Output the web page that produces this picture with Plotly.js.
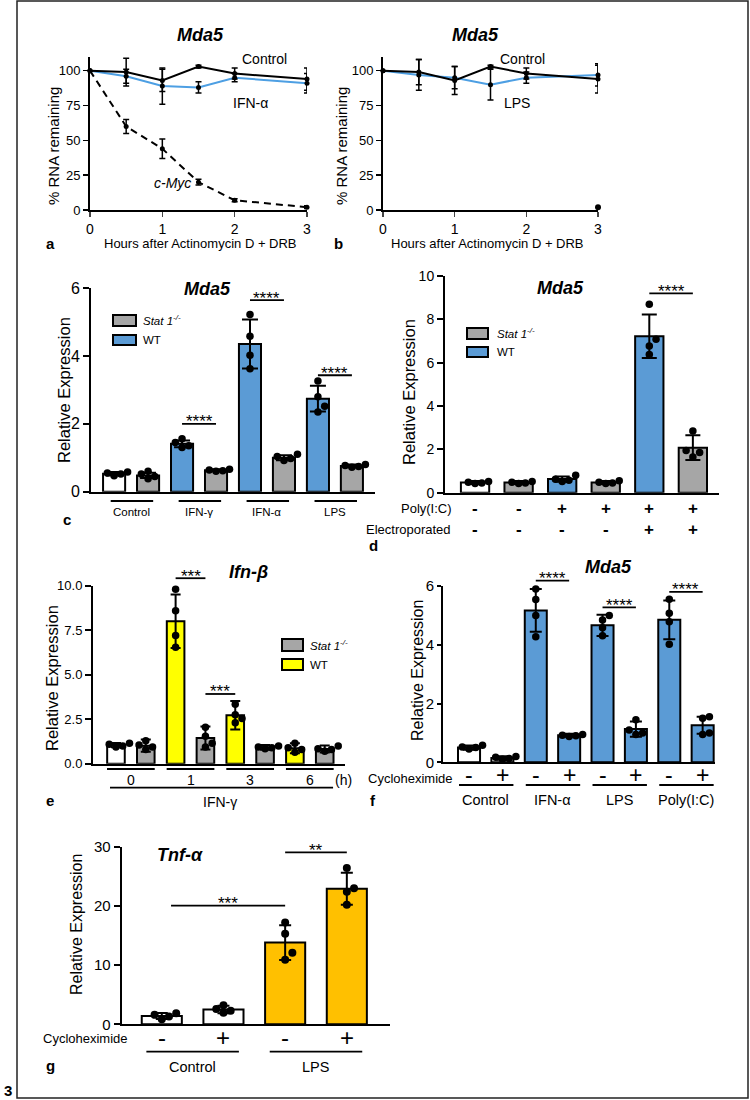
<!DOCTYPE html>
<html><head><meta charset="utf-8">
<script src="https://cdn.plot.ly/plotly-3.0.1.min.js"></script>
<style>html,body{margin:0;padding:0;background:#fff}#chart{width:750px;height:1100px}</style>
</head><body><div id="chart"></div>
<script>
// ================= DATA =================
// Panel a: Mda5 mRNA decay (IFN-α)
const hours = [0, 0.5, 1, 1.5, 2, 3];
const aControl = [100, 99, 93, 103, 98, 94];
const aControlErr = [0, 10, 8, 1, 4, 8];
const aIFNa = [100, 96, 89, 88, 95, 91];
const aIFNaErr = [0, 5, 13, 4, 3, 7];
const aMyc = [100, 60, 44, 20, 7, 2];
const aMycErr = [0, 5, 7, 2, 1, 1];
// Panel b: Mda5 mRNA decay (LPS)
const bControl = [100, 99, 93, 103, 98, 94];
const bControlErr = [0, 9, 10, 1, 4, 10];
const bLPS = [100, 97, 95, 90, 95, 97];
const bLPSErr = [0, 11, 8, 11, 4, 8];
const bMycHour = [3];
const bMyc = [2];
const xTicksAB = [0, 1, 2, 3];
const yTicksAB = [0, 25, 50, 75, 100];

// Panel c: Mda5, WT vs Stat1-/-
const cGroups = ['Control', 'IFN-γ', 'IFN-α', 'LPS'];
const cMeans = [0.53, 0.48, 1.41, 0.63, 4.35, 1.0, 2.74, 0.76];
const cErr = [0.05, 0.08, 0.1, 0.03, 0.72, 0.07, 0.38, 0.04];
const cPoints = [[0.47, 0.52, 0.55, 0.58], [0.38, 0.45, 0.52, 0.6], [1.3, 1.35, 1.45, 1.56], [0.6, 0.62, 0.64, 0.66],
                 [3.62, 4.02, 4.58, 5.22], [0.92, 0.98, 1.04, 1.1], [2.35, 2.52, 2.8, 3.26], [0.72, 0.74, 0.77, 0.8]];
const cSig = [[2, 3, 2.0, '****'], [4, 5, 5.64, '****'], [6, 7, 3.43, '****']];
const cTicks = [0, 2, 4, 6];

// Panel d: Mda5, Poly(I:C)
const dPoly = ['-', '-', '+', '+', '+', '+'];
const dElectro = ['-', '-', '-', '-', '+', '+'];
const dMeans = [0.47, 0.47, 0.63, 0.47, 7.22, 2.08];
const dErr = [0.07, 0.07, 0.12, 0.07, 1.0, 0.57];
const dPoints = [[0.42, 0.45, 0.48, 0.52], [0.42, 0.45, 0.48, 0.52], [0.52, 0.58, 0.62, 0.8], [0.42, 0.45, 0.48, 0.55],
                 [6.38, 6.77, 7.08, 8.7], [1.65, 1.85, 1.95, 2.85]];
const dSig = [[4, 5, 9.2, '****']];
const dTicks = [0, 2, 4, 6, 8, 10];

// Panel e: Ifn-β, IFN-γ time course
const eHours = ['0', '1', '3', '6'];
const eMeans = [1.05, 1.02, 8.0, 1.45, 2.73, 0.92, 0.87, 0.83];
const eErr = [0.12, 0.35, 1.5, 0.65, 0.8, 0.13, 0.28, 0.2];
const ePoints = [[0.95, 1.0, 1.1, 1.15], [0.8, 0.95, 1.05, 1.3], [6.55, 7.2, 8.6, 9.8], [0.95, 1.15, 1.55, 2.05],
                 [2.3, 2.55, 2.75, 3.35], [0.85, 0.9, 0.95, 1.0], [0.65, 0.8, 0.9, 1.15], [0.7, 0.8, 0.85, 1.0]];
const eSig = [[2, 3, 10.42, '***'], [3, 4, 3.92, '***']];
const eTicks = [0, 2.5, 5, 7.5, 10];

// Panel f: Mda5, cycloheximide
const fGroups = ['Control', 'IFN-α', 'LPS', 'Poly(I:C)'];
const fChx = ['-', '+', '-', '+', '-', '+', '-', '+'];
const fMeans = [0.5, 0.15, 5.17, 0.92, 4.66, 1.13, 4.85, 1.26];
const fErr = [0.07, 0.06, 0.73, 0.05, 0.36, 0.26, 0.66, 0.29];
const fPoints = [[0.45, 0.5, 0.52, 0.58], [0.1, 0.13, 0.17, 0.2], [4.27, 5.0, 5.54, 5.9], [0.88, 0.9, 0.92, 0.95],
                 [4.31, 4.58, 4.84, 5.0], [0.95, 1.0, 1.1, 1.45], [4.02, 4.78, 5.07, 5.55], [0.95, 1.0, 1.5, 1.55]];
const fSig = [[2, 3, 6.18, '****'], [4, 5, 5.27, '****'], [6, 7, 5.8, '****']];
const fTicks = [0, 2, 4, 6];

// Panel g: Tnf-α, cycloheximide
const gGroups = ['Control', 'LPS'];
const gChx = ['-', '+', '-', '+'];
const gMeans = [1.4, 2.5, 13.8, 22.9];
const gErr = [0.5, 0.65, 2.95, 2.7];
const gPoints = [[0.85, 1.3, 1.6, 1.85], [1.95, 2.3, 2.6, 3.2], [10.9, 12.1, 15.3, 17.2], [20.2, 22.4, 23.0, 26.4]];
const gSig = [[0.15, 2, 20.03, '***'], [2, 3, 29.05, '**']];
const gTicks = [0, 10, 20, 30];

// ================= STYLE / LAYOUT =================
const W = 750, H = 1100;
const FONT = 'Liberation Sans, Arial, Helvetica, sans-serif';
const BLUE = '#5b9bd5', GRAY = '#a6a6a6', WHITE = '#ffffff', YELLOW = '#ffff00', ORANGE = '#ffc000', LBLUE = '#4d9fe3';
const px = v => v / W, py = v => 1 - v / H;

const P = {
  a: {x: 'x',  y: 'y',  left: 90,    right: 307, top: 56.8,  bottom: 210,    xr: [0, 3],          yr: [0, 110]},
  b: {x: 'x2', y: 'y2', left: 383,   right: 598, top: 56.8,  bottom: 210,    xr: [0, 3],          yr: [0, 110]},
  c: {x: 'x3', y: 'y3', left: 91,    right: 375, top: 288,   bottom: 491.7,  xr: [-0.68, 7.68],   yr: [0, 6]},
  d: {x: 'x4', y: 'y4', left: 445,   right: 719, top: 276,   bottom: 492.7,  xr: [-0.69, 5.6],    yr: [0, 10]},
  e: {x: 'x5', y: 'y5', left: 93,    right: 345, top: 585.7, bottom: 763.8,  xr: [-0.77, 7.68],   yr: [0, 10]},
  f: {x: 'x6', y: 'y6', left: 443,   right: 715, top: 586,   bottom: 762.3,  xr: [-0.78, 7.37],   yr: [0, 6]},
  g: {x: 'x7', y: 'y7', left: 121.7, right: 390, top: 846.7, bottom: 1024.3, xr: [-0.65, 3.7],    yr: [0, 30]}
};
const XP = (p, v) => p.left + (v - p.xr[0]) / (p.xr[1] - p.xr[0]) * (p.right - p.left); // pixel
const YP = (p, v) => p.bottom - (v - p.yr[0]) / (p.yr[1] - p.yr[0]) * (p.bottom - p.top);
const axName = id => (id[0] === 'x' ? 'xaxis' : 'yaxis') + id.slice(1);

const layout = {
  width: W, height: H, margin: {l: 0, r: 0, t: 0, b: 0}, paper_bgcolor: '#fff', plot_bgcolor: 'rgba(0,0,0,0)',
  showlegend: false, font: {family: FONT, color: '#000'}, annotations: [], shapes: [], barmode: 'overlay'
};
function baseX(p) {
  return {domain: [px(p.left), px(p.right)], range: p.xr, anchor: p.y, showline: true, linecolor: '#000', linewidth: 2,
    showgrid: false, zeroline: false, fixedrange: true, ticks: '', showticklabels: false, automargin: false};
}
function baseY(p, tickvals, size, tl) {
  return {domain: [py(p.bottom), py(p.top)], range: p.yr, anchor: p.x, showline: true, linecolor: '#000', linewidth: 2,
    showgrid: false, zeroline: false, fixedrange: true, ticks: 'outside', ticklen: tl || 6, tickwidth: 2, tickcolor: '#000',
    tickvals: tickvals, tickfont: {size: size, color: '#000', family: FONT}, automargin: false};
}
for (const k of ['a', 'b']) {
  const p = P[k];
  layout[axName(p.x)] = Object.assign(baseX(p), {ticks: 'outside', ticklen: 5, tickwidth: 1.5, showticklabels: true,
    tickvals: xTicksAB, tickfont: {size: 14, family: FONT, color: '#000'}});
  layout[axName(p.y)] = Object.assign(baseY(p, yTicksAB, 13), {ticklen: 5, tickwidth: 1.5});
}
layout[axName(P.c.x)] = baseX(P.c); layout[axName(P.c.y)] = baseY(P.c, cTicks, 16);
layout[axName(P.d.x)] = baseX(P.d); layout[axName(P.d.y)] = baseY(P.d, dTicks, 14);
layout[axName(P.e.x)] = baseX(P.e); layout[axName(P.e.y)] = Object.assign(baseY(P.e, eTicks, 13), {tickformat: '.1f'});
layout[axName(P.f.x)] = baseX(P.f); layout[axName(P.f.y)] = baseY(P.f, fTicks, 15, 4);
layout[axName(P.g.x)] = baseX(P.g); layout[axName(P.g.y)] = baseY(P.g, gTicks, 15);

const traces = [];
function line(p, xs, ys, errs, color, dash) {
  traces.push({type: 'scatter', mode: 'lines+markers', x: xs, y: ys, xaxis: p.x, yaxis: p.y, cliponaxis: false,
    line: {color: color, width: 2, dash: dash || 'solid'}, marker: {size: 5, color: '#000'},
    error_y: {type: 'data', array: errs, visible: true, color: '#000', thickness: 1.5, width: 3}});
}
line(P.a, hours, aMyc, aMycErr, '#000', '7px,5px');
line(P.a, hours, aIFNa, aIFNaErr, LBLUE);
line(P.a, hours, aControl, aControlErr, '#000');
line(P.b, hours, bLPS, bLPSErr, LBLUE);
line(P.b, hours, bControl, bControlErr, '#000');
traces.push({type: 'scatter', mode: 'markers', x: bMycHour, y: bMyc, xaxis: P.b.x, yaxis: P.b.y, cliponaxis: false,
  marker: {size: 6, color: '#000'}});

function bars(p, means, errs, fills, width, capw, points, dot) {
  const idx = means.map((_, i) => i);
  traces.push({type: 'bar', x: idx, y: means, width: width, xaxis: p.x, yaxis: p.y, cliponaxis: false,
    marker: {color: fills, line: {color: '#000', width: 2}},
    error_y: {type: 'data', array: errs, visible: true, color: '#000', thickness: 2, width: capw}});
  // simple beeswarm so overlapping dots sit side by side
  const sx = (p.right - p.left) / (p.xr[1] - p.xr[0]), sy = (p.bottom - p.top) / (p.yr[1] - p.yr[0]);
  const xs = [], ys = [];
  points.forEach((vals, i) => {
    const placed = [];
    vals.forEach(v => {
      const yy = v * sy;
      let off = 0;
      for (let k = 0; k < 12; k++) {
        const cand = (k === 0 ? 0 : (k % 2 ? 1 : -1) * Math.ceil(k / 2) * dot * 0.9);
        if (placed.every(q => Math.hypot(q[0] - cand, q[1] - yy) >= dot * 0.9)) { off = cand; break; }
      }
      placed.push([off, yy]);
      xs.push(i + off / sx); ys.push(v);
    });
  });
  traces.push({type: 'scatter', mode: 'markers', x: xs, y: ys, xaxis: p.x, yaxis: p.y, cliponaxis: false,
    marker: {size: dot, color: '#000'}});
}
bars(P.c, cMeans, cErr, [WHITE, GRAY, BLUE, GRAY, BLUE, GRAY, BLUE, GRAY], 0.65, 8, cPoints, 7.5);
bars(P.d, dMeans, dErr, [WHITE, GRAY, BLUE, GRAY, BLUE, GRAY], 0.65, 7.5, dPoints, 7.5);
bars(P.e, eMeans, eErr, [WHITE, GRAY, YELLOW, GRAY, YELLOW, GRAY, YELLOW, GRAY], 0.59, 5, ePoints, 7.5);
bars(P.f, fMeans, fErr, [WHITE, WHITE, BLUE, BLUE, BLUE, BLUE, BLUE, BLUE], 0.66, 6, fPoints, 7.5);
bars(P.g, gMeans, gErr, [WHITE, WHITE, ORANGE, ORANGE], 0.65, 6, gPoints, 8);

// ---- helpers for text / shapes (paper coordinates from pixels) ----
function ann(x, y, text, size, o) {
  layout.annotations.push(Object.assign({xref: 'paper', yref: 'paper', x: px(x), y: py(y), text: text, showarrow: false,
    xanchor: 'center', yanchor: 'middle', font: {size: size, color: '#000', family: FONT}}, o || {}));
}
function seg(x0, y0, x1, y1, w, col) {
  layout.shapes.push({type: 'line', xref: 'paper', yref: 'paper', x0: px(x0), y0: py(y0), x1: px(x1), y1: py(y1),
    line: {color: col || '#000', width: w || 1.8}});
}
function box(x0, y0, x1, y1, fill) {
  layout.shapes.push({type: 'rect', xref: 'paper', yref: 'paper', x0: px(x0), y0: py(y1), x1: px(x1), y1: py(y0),
    fillcolor: fill, line: {color: '#000', width: 2}});
}
function sig(p, list) {
  list.forEach(([a, b, y, s]) => {
    const yy = YP(p, y);
    seg(XP(p, a), yy, XP(p, b), yy, 1.8);
    ann((XP(p, a) + XP(p, b)) / 2, yy, s, 17, {yshift: 2});
  });
}
function groups(p, names, yLine, yText, size, padL, padR) {
  names.forEach((n, g) => {
    const a = 2 * g, b = 2 * g + 1;
    seg(XP(p, a - padL), yLine, XP(p, b + padR), yLine, 1.8);
    ann((XP(p, a) + XP(p, b)) / 2, yText, n, size);
  });
}
function signs(p, list, y, size, o) {
  list.forEach((s, i) => ann(XP(p, i), y, s, size, o));
}
const bold = (t) => '<b>' + t + '</b>';
const bi = (t) => '<b><i>' + t + '</i></b>';
const RE = 'Relative Expression';
const STAT = '<i>Stat 1<sup>-/-</sup></i>';

// frame and figure number
layout.shapes.push({type: 'rect', xref: 'paper', yref: 'paper', x0: px(17), x1: px(748), y0: py(1098), y1: py(1),
  line: {color: '#222', width: 1.5}, fillcolor: 'rgba(0,0,0,0)'});
ann(8, 1090, bold('3'), 15);

// Panel a / b texts
ann(200, 35, bi('Mda5'), 18);
ann(475, 35, bi('Mda5'), 18);
ann(54, 146, '% RNA remaining', 15, {textangle: -90});
ann(342, 146, '% RNA remaining', 15, {textangle: -90});
ann(200, 244, 'Hours after Actinomycin D + DRB', 13);
ann(487, 244, 'Hours after Actinomycin D + DRB', 13);
ann(264, 59, 'Control', 14);
ann(250, 103, 'IFN-α', 14);
ann(172, 183, '<i>c-Myc</i>', 14);
ann(522, 59, 'Control', 14);
ann(517, 103, 'LPS', 14);
ann(50, 244, bold('a'), 15);
ann(338, 244, bold('b'), 15);

// Panel c
ann(207, 289, bi('Mda5'), 18);
ann(64, 390, RE, 16.5, {textangle: -90});
box(113, 315, 136, 326, GRAY); box(113, 335, 136, 345, BLUE);
ann(141, 320, STAT, 11.5, {xanchor: 'left'});
ann(141, 340, 'WT', 11.5, {xanchor: 'left'});
sig(P.c, cSig);
groups(P.c, cGroups, 501, 512, 11.5, 0.1, 0.15);
ann(67, 520, bold('c'), 15);

// Panel d
ann(560, 288, bi('Mda5'), 18);
ann(409, 392, RE, 16.5, {textangle: -90});
box(467, 328, 488, 339, GRAY); box(467, 347, 488, 357, BLUE);
ann(495, 333, STAT, 11.5, {xanchor: 'left'});
ann(495, 352, 'WT', 11.5, {xanchor: 'left'});
sig(P.d, dSig);
ann(454, 509, 'Poly(I:C)', 13, {xanchor: 'right'});
ann(453, 529, 'Electroporated', 13, {xanchor: 'right'});
signs(P.d, dPoly, 508, 17, {font: {size: 17, color: '#000', family: FONT, weight: 'bold'}});
signs(P.d, dElectro, 529, 17, {font: {size: 17, color: '#000', family: FONT, weight: 'bold'}});
ann(373, 545, bold('d'), 15);

// Panel e
ann(248, 572, bi('Ifn-β'), 18);
ann(52, 678, RE, 16.5, {textangle: -90});
box(282, 639, 303, 651, GRAY); box(282, 659, 303, 670, YELLOW);
ann(308, 645, STAT, 11.5, {xanchor: 'left'});
ann(308, 665, 'WT', 11.5, {xanchor: 'left'});
sig(P.e, eSig);
groups(P.e, eHours, 769, 780, 14, 0.3, 0.3);
ann(343, 780, '(h)', 14);
seg(XP(P.e, -0.2), 787.7, XP(P.e, 7.28), 787.7, 1.8);
ann((XP(P.e, 0) + XP(P.e, 7)) / 2, 802, 'IFN-γ', 14);
ann(50, 800, bold('e'), 15);

// Panel f
ann(608, 567, bi('Mda5'), 18);
ann(417, 671, RE, 16, {textangle: -90});
sig(P.f, fSig);
ann(455, 778, 'Cycloheximide', 13, {xanchor: 'right'});
signs(P.f, fChx, 775, 23);
groups(P.f, fGroups, 785, 800, 14.5, 0.3, 0.33);
ann(373, 800, bold('f'), 15);

// Panel g
ann(180, 855, bi('Tnf-α'), 18);
ann(76, 925, RE, 16, {textangle: -90});
sig(P.g, gSig);
ann(130, 1038, 'Cycloheximide', 13, {xanchor: 'right'});
signs(P.g, gChx, 1037, 24);
groups(P.g, gGroups, 1051.7, 1066.7, 14.5, 0.25, 0.25);
ann(50, 1065, bold('g'), 15);

Plotly.newPlot('chart', traces, layout, {staticPlot: true, displayModeBar: false});
</script>
</body></html>
